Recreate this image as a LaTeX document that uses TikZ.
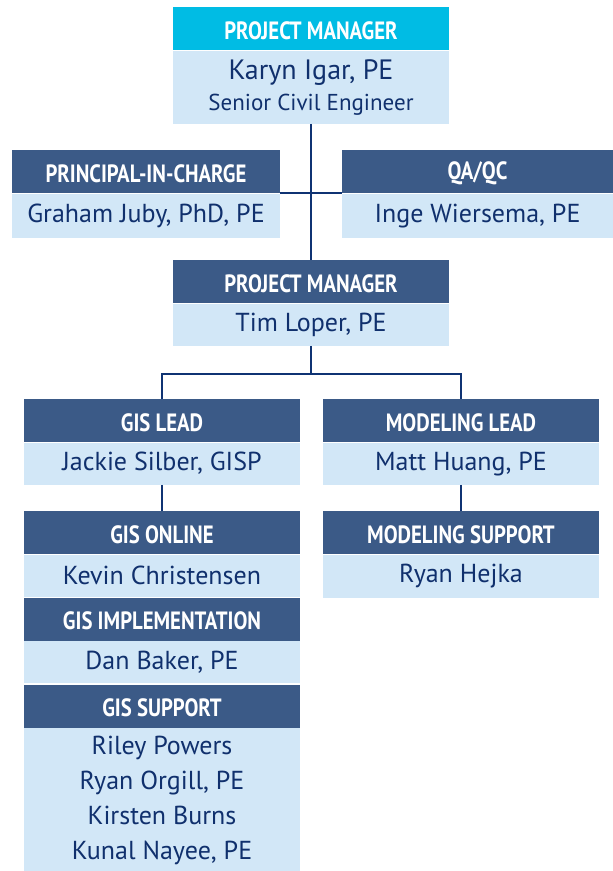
\documentclass[tikz,border=0pt]{standalone}
\usepackage{fontspec}
\setmainfont{PT Sans}
\newfontfamily\headfont[FakeStretch=0.83]{PT Sans}
\usepackage{tikz}
\usetikzlibrary{positioning}
\definecolor{colorHead}{HTML}{3B5A87}
\definecolor{colorTopHead}{HTML}{00BCE4}
\definecolor{colorBody}{HTML}{D2E7F7}
\definecolor{colorName}{HTML}{10306D}
\definecolor{colorLink}{HTML}{0F3373}
\tikzset{
  head/.style={fill=colorHead, text=white, anchor=north, inner sep=0pt,
    minimum width=276pt, minimum height=43pt, text height=21pt,
    font=\headfont\bfseries\fontsize{25}{27}\selectfont},
  tophead/.style={head, fill=colorTopHead},
  body/.style={fill=colorBody, text=colorName, inner sep=0pt, align=center,
    minimum width=276pt, minimum height=42pt, below=0pt of #1,
    font=\fontsize{26}{35}\selectfont},
  link/.style={draw=colorLink, line width=2pt}
}

\begin{document}
\begin{tikzpicture}[x=1pt, y=-1pt]
\useasboundingbox (0,0) rectangle (613,871);
% top of the chart
\node[tophead] (pmTopHead) at (311,7) {PROJECT MANAGER};
\node[body=pmTopHead, minimum height=73pt, font=\fontsize{28}{31}\selectfont] (pmTopBody) {Karyn Igar, PE\\{\fontsize{23}{31}\selectfont Senior Civil Engineer}};
\node[head, minimum width=268pt] (picHead) at (146,150) {PRINCIPAL-IN-CHARGE};
\node[body=picHead, minimum width=268pt, minimum height=44pt] (picBody) {Graham Juby, PhD, PE};
\node[head, minimum width=271pt] (qaHead) at (477.5,150) {QA/QC};
\node[body=qaHead, minimum width=271pt, minimum height=44pt] (qaBody) {Inge Wiersema, PE};
\node[head] (pmHead) at (311,260) {PROJECT MANAGER};
\node[body=pmHead] (pmBody) {Tim Loper, PE};
% gis side
\node[head] (gisLeadHead) at (162,399) {GIS LEAD};
\node[body=gisLeadHead] (gisLeadBody) {Jackie Silber, GISP};
\node[head] (gisOnlineHead) at (162,511) {GIS ONLINE};
\node[body=gisOnlineHead] (gisOnlineBody) {Kevin Christensen};
\node[head, below=1pt of gisOnlineBody] (gisImplHead) {GIS IMPLEMENTATION};
\node[body=gisImplHead] (gisImplBody) {Dan Baker, PE};
\node[head, below=1pt of gisImplBody] (gisSupportHead) {GIS SUPPORT};
\node[body=gisSupportHead, minimum height=144pt] (gisSupportBody) {Riley Powers\\Ryan Orgill, PE\\Kirsten Burns\\Kunal Nayee, PE};
% modeling side
\node[head] (modLeadHead) at (461,399) {MODELING LEAD};
\node[body=modLeadHead] (modLeadBody) {Matt Huang, PE};
\node[head] (modSupportHead) at (461,511) {MODELING SUPPORT};
\node[body=modSupportHead, minimum height=43pt] (modSupportBody) {Ryan Hejka};
% links
\coordinate (fork) at (311,374);
\draw[link] (pmTopBody) -- (pmHead);
\draw[link] (picHead.south east) -- (qaHead.south west);
\draw[link] (pmBody) -- (fork);
\draw[link] (gisLeadHead.north) |- (fork) -| (modLeadHead.north);
\draw[link] (gisLeadBody) -- (gisOnlineHead);
\draw[link] (modLeadBody) -- (modSupportHead);
\end{tikzpicture}
\end{document}
